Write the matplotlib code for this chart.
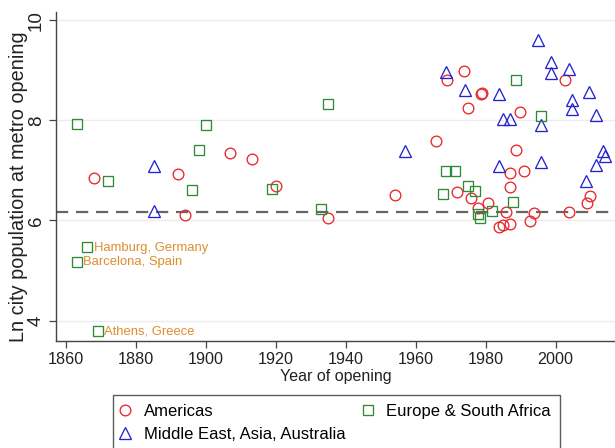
import matplotlib
matplotlib.use("Agg")
import matplotlib.pyplot as plt
from matplotlib.lines import Line2D

plt.rcParams['font.family'] = ['Liberation Sans', 'DejaVu Sans']

# ---- data (year of opening, ln city population at metro opening) ----
am_year = [1868.0, 1892.1, 1894.1, 1906.9, 1913.1, 1919.9, 1935.0, 1954.0, 1965.9,
           1969.0, 1973.7, 1974.9, 1978.6, 1979.0, 1971.8, 1975.9, 1977.9, 1980.7,
           1985.9, 1983.8, 1984.9, 1987.0, 1986.9, 1986.9, 1990.9, 1988.8, 1989.9,
           1992.8, 1993.9, 2002.8, 2003.8, 2008.9, 2009.9]
am_val = [6.84, 6.92, 6.11, 7.34, 7.23, 6.69, 6.06, 6.51, 7.58,
          8.81, 8.99, 8.25, 8.52, 8.55, 6.57, 6.45, 6.24, 6.34,
          6.16, 5.87, 5.90, 5.92, 6.66, 6.94, 6.98, 7.41, 8.16,
          5.98, 6.15, 8.80, 6.16, 6.34, 6.49]

as_year = [1885.0, 1885.0, 1956.9, 1968.8, 1974.1, 1983.7, 1984.9, 1986.9, 1983.7,
           1994.9, 1998.8, 1998.8, 2003.8, 1995.9, 1995.9, 2004.8, 2004.8, 2009.7,
           2011.6, 2008.8, 2011.7, 2013.7, 2014.0]
as_val = [7.08, 6.18, 7.39, 8.96, 8.62, 8.54, 8.04, 8.04, 7.09,
          9.60, 9.16, 8.94, 9.04, 7.90, 7.16, 8.41, 8.22, 8.57,
          8.11, 6.78, 7.10, 7.38, 7.28]

eu_year = [1863.1, 1872.1, 1866.1, 1863.1, 1869.1, 1895.9, 1898.0, 1900.0, 1918.8,
           1933.0, 1935.0, 1967.8, 1968.8, 1971.1, 1974.9, 1976.9, 1977.9, 1978.3,
           1981.9, 1987.8, 1988.8, 1995.9]
eu_val = [7.92, 6.79, 5.46, 5.18, 3.79, 6.60, 7.41, 7.91, 6.62,
          6.22, 8.33, 6.53, 6.99, 6.99, 6.68, 6.58, 6.13, 6.06,
          6.18, 6.37, 8.81, 8.08]
eu_labels = ["", "", "Hamburg, Germany", "Barcelona, Spain", "Athens, Greece"] + [""] * 17

ref_line = 6.165
x_ticks = [1860, 1880, 1900, 1920, 1940, 1960, 1980, 2000]
y_ticks = [4, 6, 8, 10]

series_names = ["Americas", "Middle East, Asia, Australia", "Europe & South Africa"]

# ---- style ----
RED = '#e8262c'
BLUE = '#2323d2'
GREEN = '#2f8a35'
ORANGE = '#dd8f2c'
AXC = '#444444'
FS = 12

fig = plt.figure(figsize=(6.15, 4.48), dpi=100)
ax = fig.add_axes([56 / 615, 1 - 341 / 448, 1 - 56 / 615, (341 - 12) / 448])

ax.set_xlim(1857.1, 2017.0)
ax.set_ylim(3.59, 10.17)

for y in y_ticks:
    ax.axhline(y, color='#ececec', lw=1.0, zorder=0)

ax.axhline(ref_line, color='#666666', lw=1.6, dashes=(5.5, 3.5), zorder=1)

mk = dict(linestyle='none', markerfacecolor='none', markeredgewidth=0.95, zorder=3)
ax.plot(am_year, am_val, marker='o', markersize=7.7, markeredgecolor=RED, **mk)
ax.plot(as_year, as_val, marker='^', markersize=9.0, markeredgecolor=BLUE, **mk)
ax.plot(eu_year, eu_val, marker='s', markersize=7.7, markeredgecolor=GREEN, **mk)

for x, y, lab in zip(eu_year, eu_val, eu_labels):
    if lab:
        ax.annotate(lab, (x, y), xytext=(4.5, 0), textcoords='offset points',
                    va='center', ha='left', fontsize=9.4, color=ORANGE, zorder=4)

ax.set_xticks(x_ticks)
ax.set_yticks(y_ticks)
ax.tick_params(axis='both', direction='out', length=5, width=0.9, color=AXC,
               labelcolor='#222222', pad=3)
ax.tick_params(axis='x', labelsize=11.6)
ax.tick_params(axis='y', labelsize=13.5)
ax.set_yticklabels([str(v) for v in y_ticks], rotation=90, va='center')
for s in ['top', 'right']:
    ax.spines[s].set_visible(False)
for s in ['left', 'bottom']:
    ax.spines[s].set_color(AXC)
    ax.spines[s].set_linewidth(1.0)

ax.set_xlabel("Year of opening", fontsize=11.5, color='#222222', labelpad=1)
ax.set_ylabel("Ln city population at metro opening", fontsize=14.3, color='#222222',
              labelpad=4)
ax.yaxis.set_label_coords(-0.05, 0.47)

handles = [
    Line2D([], [], marker='o', linestyle='none', markerfacecolor='none', markeredgecolor=RED,
           markersize=7.7, markeredgewidth=0.95),
    Line2D([], [], marker='^', linestyle='none', markerfacecolor='none', markeredgecolor=BLUE,
           markersize=9.0, markeredgewidth=0.95),
    Line2D([], [], marker='s', linestyle='none', markerfacecolor='none', markeredgecolor=GREEN,
           markersize=7.7, markeredgewidth=0.95),
]
leg = fig.legend(handles, series_names, ncol=2, loc='upper left',
                 bbox_to_anchor=(113 / 615, 1 - 395 / 448), frameon=True, fancybox=False,
                 fontsize=FS, handlelength=0.4, handletextpad=0.9, columnspacing=1.15,
                 labelspacing=0.45, borderpad=0.54, borderaxespad=0, edgecolor='#333333')
leg.get_frame().set_linewidth(1.0)

fig.savefig("out.png", dpi=100)
